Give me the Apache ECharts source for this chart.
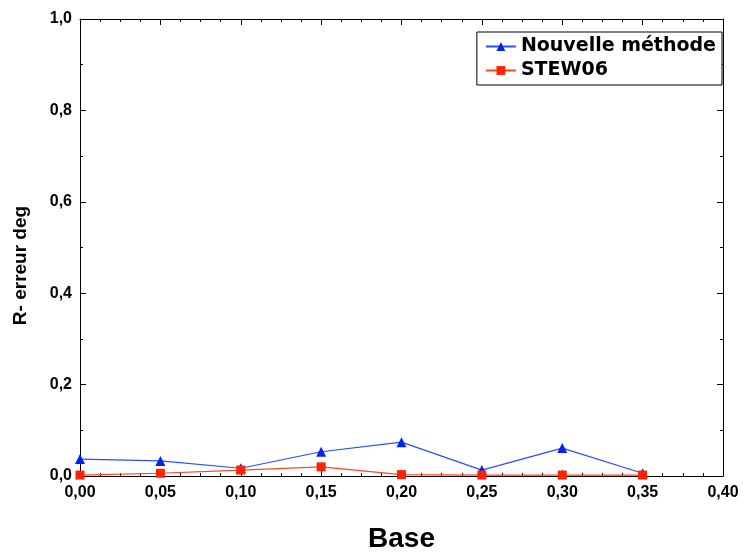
<!DOCTYPE html>
<html><head><meta charset="utf-8">
<script src="https://cdn.jsdelivr.net/npm/echarts@6/dist/echarts.min.js"></script>
<style>html,body{margin:0;padding:0;background:#fff}#c{width:745px;height:554px}</style>
</head><body><div id="c"></div>
<script>
const xValues = [0.00, 0.05, 0.10, 0.15, 0.20, 0.25, 0.30, 0.35];
const nouvelle = [0.037, 0.033, 0.017, 0.053, 0.074, 0.013, 0.061, 0.006];
const stew06 = [0.002, 0.006, 0.013, 0.020, 0.003, 0.002, 0.002, 0.002];
const seriesNames = ['Nouvelle méthode', 'STEW06'];
const xTitle = 'Base';
const yTitle = 'R- erreur deg';

const font = 'Liberation Sans, Arial, sans-serif';
const comma = d => v => v.toFixed(d).replace('.', ',');
const chart = echarts.init(document.getElementById('c'));
const axisLine = {show: true, onZero: false, lineStyle: {color: '#000', width: 1}};
const tick = {inside: true, length: 6, lineStyle: {color: '#000'}};
chart.setOption({
  animation: false,
  grid: {left: 80, right: 22, top: 19, bottom: 78, containLabel: false, outerBoundsMode: 'none'},
  legend: {
    right: 23, top: 32, orient: 'vertical', itemGap: 5,
    padding: [5, 6, 5, 8],
    borderColor: '#000', borderWidth: 1, backgroundColor: '#fff',
    itemWidth: 30, itemHeight: 11,
    textStyle: {fontFamily: 'DejaVu Sans', fontSize: 19, fontWeight: 'bold', color: '#000'},
    data: seriesNames
  },
  xAxis: [{
    type: 'value', min: 0, max: 0.4, interval: 0.05,
    name: xTitle, nameLocation: 'middle', nameGap: 49,
    nameTextStyle: {fontFamily: font, fontSize: 28, fontWeight: 'bold', color: '#000'},
    axisLine, axisTick: tick,
    minorTick: {show: true, splitNumber: 4, length: 3, lineStyle: {color: '#000'}},
    axisLabel: {formatter: comma(2), fontFamily: font, fontSize: 16, fontWeight: 'bold', color: '#000', margin: 9},
    splitLine: {show: false}
  }, {
    type: 'value', position: 'top', min: 0, max: 0.4, interval: 0.05,
    axisLine, axisTick: tick,
    minorTick: {show: true, splitNumber: 4, length: 3, lineStyle: {color: '#000'}},
    axisLabel: {show: false}, splitLine: {show: false}
  }],
  yAxis: [{
    type: 'value', min: 0, max: 1, interval: 0.2,
    name: yTitle, nameLocation: 'middle', nameGap: 50,
    nameTextStyle: {fontFamily: font, fontSize: 19, fontWeight: 'bold', color: '#000', padding: [0, 36, 0, 0]},
    axisLine, axisTick: tick,
    minorTick: {show: true, splitNumber: 2, length: 3, lineStyle: {color: '#000'}},
    axisLabel: {formatter: comma(1), fontFamily: font, fontSize: 16, fontWeight: 'bold', color: '#000', margin: 8},
    splitLine: {show: false}
  }, {
    type: 'value', position: 'right', min: 0, max: 1, interval: 0.2,
    axisLine, axisTick: tick,
    minorTick: {show: true, splitNumber: 2, length: 3, lineStyle: {color: '#000'}},
    axisLabel: {show: false}, splitLine: {show: false}
  }],
  series: [{
    name: seriesNames[0], type: 'line',
    data: xValues.map((x, i) => [x, nouvelle[i]]),
    symbol: 'triangle', symbolSize: 10, showAllSymbol: true,
    lineStyle: {color: '#2a4cff', width: 1.2},
    itemStyle: {color: '#0022ee'}, z: 3
  }, {
    name: seriesNames[1], type: 'line',
    data: xValues.map((x, i) => [x, stew06[i]]),
    symbol: 'rect', symbolSize: 9, showAllSymbol: true,
    lineStyle: {color: '#ff4422', width: 1.2},
    itemStyle: {color: '#ff2200'}, z: 4
  }]
});
</script></body></html>
